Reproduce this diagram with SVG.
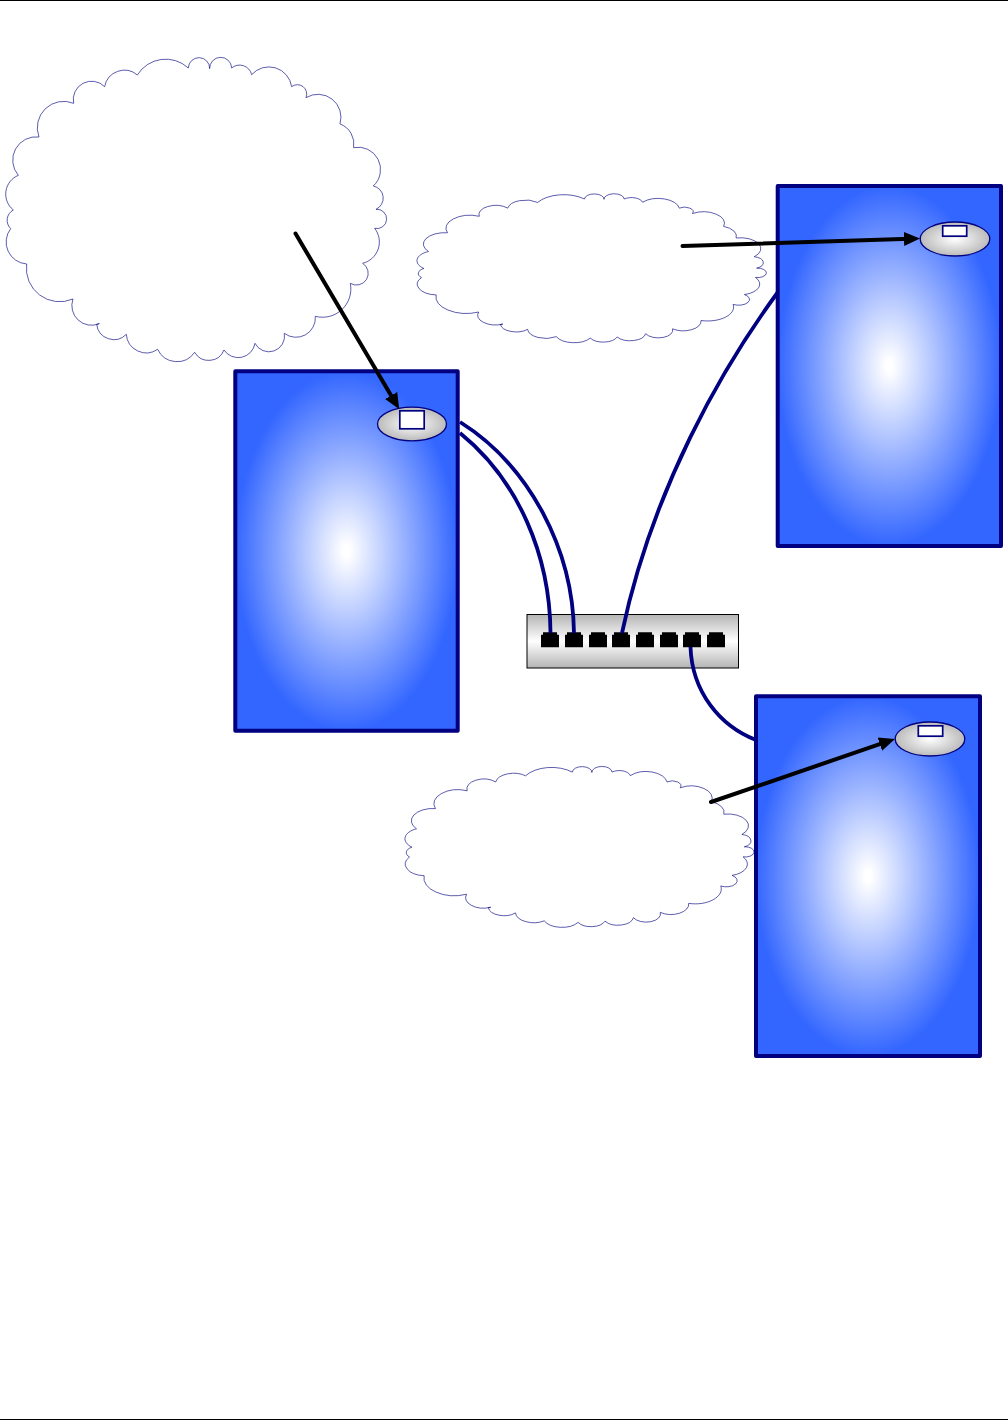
<svg xmlns="http://www.w3.org/2000/svg" xmlns:xlink="http://www.w3.org/1999/xlink" width="1008" height="1420" viewBox="0 0 1008 1420">
<style>
.cloud{fill:#fff;stroke:#000080;stroke-width:.8;stroke-opacity:.8;vector-effect:non-scaling-stroke}
.panel{fill:url(#panelGrad);stroke:#000080;stroke-width:4;stroke-linejoin:round}
.port-ell{fill:url(#ellGrad);stroke:#000080;stroke-width:1.3}
.port-box{fill:#fff;stroke:#000080;stroke-width:1.7}
.cable{fill:none;stroke:#000080;stroke-width:3.8}
.arrow{fill:none;stroke:#000;stroke-width:4;stroke-linecap:round;marker-end:url(#head)}
.rule{stroke:#000;stroke-width:1}
</style>
<defs>
<radialGradient id="panelGrad" cx=".5" cy=".5" r=".5"><stop offset=".03" stop-color="#fff"/><stop offset="1" stop-color="#3366ff"/></radialGradient>
<radialGradient id="ellGrad" cx=".5" cy=".5" r=".55"><stop offset="0" stop-color="#fff"/><stop offset="1" stop-color="#b4b4b4"/></radialGradient>
<linearGradient id="swGrad" x1="0" y1="0" x2="0" y2="1"><stop offset="0" stop-color="#b4b4b4"/><stop offset=".5" stop-color="#fff"/><stop offset="1" stop-color="#b4b4b4"/></linearGradient>
<marker id="head" markerUnits="userSpaceOnUse" markerWidth="18" markerHeight="16" refX="6" refY="8" orient="auto"><path d="M0,1 L16,8 L0,15 Z" fill="#000"/></marker>
<path id="cloudShape" class="cloud" d="M412,105 A100,100 0 0 1 565,84 A32,32 0 0 1 629,86 A33,33 0 0 1 695,84 A37,37 0 0 1 755,104 A69,69 0 0 1 875,140 A28,28 0 0 1 918,173 A69,69 0 0 1 1020,252 A64,64 0 0 1 1061,323 A67,67 0 0 1 1120,438 A37,37 0 0 1 1128,508 A29,29 0 1 1 1124,565 A66,66 0 0 1 1088,670 A35,35 0 0 1 1051,730 A85,85 0 0 1 946,829 A58,58 0 0 1 853,880 A47,47 0 0 1 765,910 A51,51 0 0 1 672,930 A49,49 0 0 1 584,937 A64,64 0 0 1 473,928 A60,60 0 0 1 379,883 A52,52 0 0 1 290,853 L298,851 A59,59 0 0 1 219,777 A100,100 0 0 1 80,672 A66,66 0 0 1 32,566 A35,35 0 0 1 40,510 A61,61 0 0 1 55,406 A70,70 0 0 1 117,291 A79,79 0 0 1 221,190 A55,55 0 0 1 314,140 A60,60 0 0 1 412,105 Z"/>
<path id="portJack" d="M0,2.5 H2 V0 H16 V2.5 H18 V15 H0 Z" fill="#000"/>
</defs>
<line class="rule" x1="0" y1=".5" x2="1008" y2=".5"/>
<line class="rule" x1="0" y1="1419.5" x2="1008" y2="1419.5"/>
<g id="switch">
<rect x="527" y="614.5" width="211.5" height="53.5" fill="url(#swGrad)" stroke="#000" stroke-width="1"/>
<use xlink:href="#portJack" x="541" y="632.3"/>
<use xlink:href="#portJack" x="565" y="632.3"/>
<use xlink:href="#portJack" x="589" y="632.3"/>
<use xlink:href="#portJack" x="612" y="632.3"/>
<use xlink:href="#portJack" x="636" y="632.3"/>
<use xlink:href="#portJack" x="660" y="632.3"/>
<use xlink:href="#portJack" x="683" y="632.3"/>
<use xlink:href="#portJack" x="707" y="632.3"/>
</g>
<g id="cables">
<path class="cable" d="M460,433 C518,480 550,555 550.5,633"/>
<path class="cable" d="M460,422 C530,466 573,550 574,633"/>
<path class="cable" d="M778,292 C722,368 652,490 622,633"/>
<path class="cable" d="M690.5,647 C692,692 720,726 756,740"/>
</g>
<g id="panel-left"><rect class="panel" x="235.3" y="371.3" width="222.4" height="359.4"/></g>
<g id="panel-top-right"><rect class="panel" x="777.7" y="186" width="223.3" height="360"/></g>
<g id="panel-bottom-right"><rect class="panel" x="756" y="696.3" width="224" height="359.7"/></g>
<g id="cloud-left"><use xlink:href="#cloudShape" transform="matrix(.3333,0,0,.3333,0,40)"/></g>
<g id="cloud-top"><use xlink:href="#cloudShape" transform="matrix(.3058,0,0,.1631,411.7,185.3)"/></g>
<g id="cloud-bottom"><use xlink:href="#cloudShape" transform="matrix(.3055,0,0,.1762,399.7,757.3)"/></g>
<g id="port-left"><ellipse class="port-ell" cx="412" cy="424" rx="34.5" ry="16.8"/><rect class="port-box" x="399.8" y="410.8" width="24.4" height="18"/></g>
<g id="port-top-right"><ellipse class="port-ell" cx="955" cy="239" rx="34.8" ry="17"/><rect class="port-box" x="942.7" y="225.8" width="24" height="10.4"/></g>
<g id="port-bottom-right"><ellipse class="port-ell" cx="930" cy="739" rx="34.8" ry="17"/><rect class="port-box" x="918.3" y="725.8" width="24.4" height="10.4"/></g>
<g id="arrows">
<line class="arrow" x1="295.5" y1="233.5" x2="394.2" y2="400.7"/>
<line class="arrow" x1="682.5" y1="246" x2="910" y2="238.8"/>
<line class="arrow" x1="711" y1="802" x2="885.5" y2="742.2"/>
</g>
</svg>
